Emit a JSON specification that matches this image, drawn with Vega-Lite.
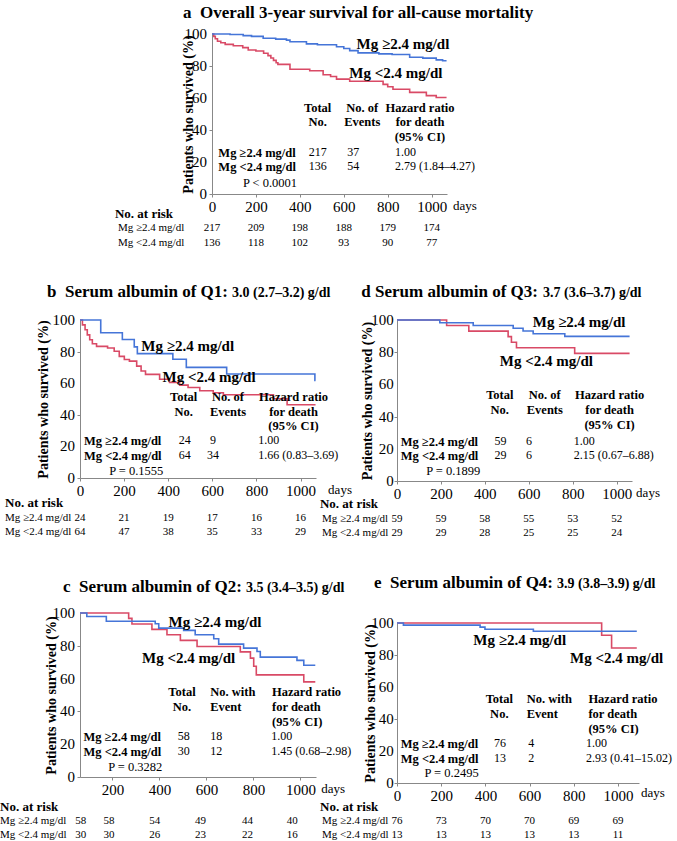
{
"$schema":"https://vega.github.io/schema/vega-lite/v6.json",
"padding":{"left":0,"top":3,"right":5,"bottom":5},
"config":{
 "font":"Liberation Serif",
 "view":{"stroke":null},
 "axis":{"grid":false,"labelFont":"Liberation Serif","labelFontSize":15,"labelColor":"#000","labelPadding":2,"labelFlush":false,"labelOverlap":false,"tickSize":3,"tickColor":"#888","domainColor":"#888","titleFont":"Liberation Serif","titleFontSize":14,"titleFontWeight":"bold","titleColor":"#000"},
 "text":{"font":"Liberation Serif","color":"#000"}
},
"datasets":{
"yticks":[{"value":0},{"value":20},{"value":40},{"value":60},{"value":80},{"value":100}],
"km":[
{"panel":"a","group":"hi","day":0,"survival":100},{"panel":"a","group":"hi","day":82,"survival":99.7},{"panel":"a","group":"hi","day":142,"survival":99.0},{"panel":"a","group":"hi","day":180,"survival":98.5},{"panel":"a","group":"hi","day":233,"survival":97.3},{"panel":"a","group":"hi","day":290,"survival":96.8},{"panel":"a","group":"hi","day":339,"survival":96.2},{"panel":"a","group":"hi","day":355,"survival":95.2},{"panel":"a","group":"hi","day":430,"survival":93.8},{"panel":"a","group":"hi","day":480,"survival":93.3},{"panel":"a","group":"hi","day":567,"survival":92.0},{"panel":"a","group":"hi","day":600,"survival":90.9},{"panel":"a","group":"hi","day":627,"survival":89.6},{"panel":"a","group":"hi","day":665,"survival":88.2},{"panel":"a","group":"hi","day":760,"survival":87.6},{"panel":"a","group":"hi","day":820,"survival":87.2},{"panel":"a","group":"hi","day":900,"survival":85.5},{"panel":"a","group":"hi","day":960,"survival":84.9},{"panel":"a","group":"hi","day":1021,"survival":83.8},{"panel":"a","group":"hi","day":1050,"survival":83.3},{"panel":"a","group":"hi","day":1068,"survival":83.3},
{"panel":"a","group":"lo","day":0,"survival":100},{"panel":"a","group":"lo","day":8,"survival":98.5},{"panel":"a","group":"lo","day":15,"survival":97},{"panel":"a","group":"lo","day":25,"survival":95.5},{"panel":"a","group":"lo","day":40,"survival":94.5},{"panel":"a","group":"lo","day":60,"survival":93.5},{"panel":"a","group":"lo","day":97,"survival":92.7},{"panel":"a","group":"lo","day":140,"survival":91.5},{"panel":"a","group":"lo","day":165,"survival":90},{"panel":"a","group":"lo","day":200,"survival":89.4},{"panel":"a","group":"lo","day":235,"survival":88},{"panel":"a","group":"lo","day":255,"survival":86.5},{"panel":"a","group":"lo","day":268,"survival":85},{"panel":"a","group":"lo","day":280,"survival":83.5},{"panel":"a","group":"lo","day":292,"survival":82},{"panel":"a","group":"lo","day":300,"survival":81},{"panel":"a","group":"lo","day":355,"survival":78},{"panel":"a","group":"lo","day":445,"survival":77},{"panel":"a","group":"lo","day":506,"survival":74.5},{"panel":"a","group":"lo","day":540,"survival":73.4},{"panel":"a","group":"lo","day":567,"survival":71.8},{"panel":"a","group":"lo","day":627,"survival":70.5},{"panel":"a","group":"lo","day":779,"survival":68.5},{"panel":"a","group":"lo","day":800,"survival":67},{"panel":"a","group":"lo","day":824,"survival":65.5},{"panel":"a","group":"lo","day":900,"survival":63.5},{"panel":"a","group":"lo","day":976,"survival":61.5},{"panel":"a","group":"lo","day":1021,"survival":60.3},{"panel":"a","group":"lo","day":1068,"survival":60.3},
{"panel":"b","group":"hi","day":0,"survival":100},{"panel":"b","group":"hi","day":94,"survival":91.9},{"panel":"b","group":"hi","day":192,"survival":87.7},{"panel":"b","group":"hi","day":246,"survival":83},{"panel":"b","group":"hi","day":260,"survival":78.7},{"panel":"b","group":"hi","day":421,"survival":75.2},{"panel":"b","group":"hi","day":482,"survival":70},{"panel":"b","group":"hi","day":665,"survival":65.8},{"panel":"b","group":"hi","day":1065,"survival":61.7},{"panel":"b","group":"hi","day":1068,"survival":61.7},
{"panel":"b","group":"lo","day":0,"survival":100},{"panel":"b","group":"lo","day":11,"survival":96.9},{"panel":"b","group":"lo","day":23,"survival":93.8},{"panel":"b","group":"lo","day":33,"survival":90.6},{"panel":"b","group":"lo","day":44,"survival":87.5},{"panel":"b","group":"lo","day":56,"survival":85},{"panel":"b","group":"lo","day":75,"survival":83.3},{"panel":"b","group":"lo","day":125,"survival":82.3},{"panel":"b","group":"lo","day":155,"survival":80.2},{"panel":"b","group":"lo","day":178,"survival":77},{"panel":"b","group":"lo","day":201,"survival":75},{"panel":"b","group":"lo","day":224,"survival":74},{"panel":"b","group":"lo","day":257,"survival":70.8},{"panel":"b","group":"lo","day":277,"survival":67.7},{"panel":"b","group":"lo","day":297,"survival":65.6},{"panel":"b","group":"lo","day":361,"survival":62.5},{"panel":"b","group":"lo","day":406,"survival":60.4},{"panel":"b","group":"lo","day":452,"survival":58.8},{"panel":"b","group":"lo","day":490,"survival":57.3},{"panel":"b","group":"lo","day":543,"survival":55.2},{"panel":"b","group":"lo","day":604,"survival":54},{"panel":"b","group":"lo","day":650,"survival":52.7},{"panel":"b","group":"lo","day":877,"survival":50.2},{"panel":"b","group":"lo","day":939,"survival":46.4},{"panel":"b","group":"lo","day":1068,"survival":46.4},
{"panel":"c","group":"hi","day":62,"survival":100},{"panel":"c","group":"hi","day":91,"survival":97.9},{"panel":"c","group":"hi","day":174,"survival":95},{"panel":"c","group":"hi","day":382,"survival":93.4},{"panel":"c","group":"hi","day":397,"survival":90.8},{"panel":"c","group":"hi","day":503,"survival":89.4},{"panel":"c","group":"hi","day":552,"survival":86.7},{"panel":"c","group":"hi","day":631,"survival":84.3},{"panel":"c","group":"hi","day":652,"survival":81.0},{"panel":"c","group":"hi","day":758,"survival":78.6},{"panel":"c","group":"hi","day":815,"survival":76.5},{"panel":"c","group":"hi","day":829,"survival":73.1},{"panel":"c","group":"hi","day":985,"survival":71.1},{"panel":"c","group":"hi","day":1014,"survival":68.1},{"panel":"c","group":"hi","day":1063,"survival":68.1},
{"panel":"c","group":"lo","day":62,"survival":100},{"panel":"c","group":"lo","day":269,"survival":96.7},{"panel":"c","group":"lo","day":283,"survival":93.3},{"panel":"c","group":"lo","day":368,"survival":90},{"panel":"c","group":"lo","day":432,"survival":86.7},{"panel":"c","group":"lo","day":489,"survival":83.3},{"panel":"c","group":"lo","day":560,"survival":79.6},{"panel":"c","group":"lo","day":744,"survival":76.3},{"panel":"c","group":"lo","day":787,"survival":72.5},{"panel":"c","group":"lo","day":801,"survival":67.5},{"panel":"c","group":"lo","day":812,"survival":62.3},{"panel":"c","group":"lo","day":1014,"survival":58},{"panel":"c","group":"lo","day":1063,"survival":58},
{"panel":"d","group":"hi","day":0,"survival":100},{"panel":"d","group":"hi","day":195,"survival":98.3},{"panel":"d","group":"hi","day":347,"survival":96.6},{"panel":"d","group":"hi","day":529,"survival":94.9},{"panel":"d","group":"hi","day":574,"survival":93.2},{"panel":"d","group":"hi","day":620,"survival":91.5},{"panel":"d","group":"hi","day":764,"survival":89.8},{"panel":"d","group":"hi","day":1059,"survival":89.8},
{"panel":"d","group":"lo","day":0,"survival":100},{"panel":"d","group":"lo","day":226,"survival":96.6},{"panel":"d","group":"lo","day":327,"survival":93.1},{"panel":"d","group":"lo","day":506,"survival":89.7},{"panel":"d","group":"lo","day":521,"survival":86.2},{"panel":"d","group":"lo","day":544,"survival":82.8},{"panel":"d","group":"lo","day":809,"survival":79.3},{"panel":"d","group":"lo","day":1059,"survival":79.3},
{"panel":"e","group":"hi","day":0,"survival":100},{"panel":"e","group":"hi","day":29,"survival":98.7},{"panel":"e","group":"hi","day":376,"survival":97.4},{"panel":"e","group":"hi","day":398,"survival":96.1},{"panel":"e","group":"hi","day":617,"survival":94.8},{"panel":"e","group":"hi","day":1085,"survival":94.8},
{"panel":"e","group":"lo","day":0,"survival":100},{"panel":"e","group":"lo","day":926,"survival":92.3},{"panel":"e","group":"lo","day":971,"survival":84.4},{"panel":"e","group":"lo","day":1085,"survival":84.4}
],
"risk":[
{"panel":"a","group":"hi","day":0,"n":217},{"panel":"a","group":"hi","day":200,"n":209},{"panel":"a","group":"hi","day":400,"n":198},{"panel":"a","group":"hi","day":600,"n":188},{"panel":"a","group":"hi","day":800,"n":179},{"panel":"a","group":"hi","day":1000,"n":174},
{"panel":"a","group":"lo","day":0,"n":136},{"panel":"a","group":"lo","day":200,"n":118},{"panel":"a","group":"lo","day":400,"n":102},{"panel":"a","group":"lo","day":600,"n":93},{"panel":"a","group":"lo","day":800,"n":90},{"panel":"a","group":"lo","day":1000,"n":77},
{"panel":"b","group":"hi","day":0,"n":24},{"panel":"b","group":"hi","day":200,"n":21},{"panel":"b","group":"hi","day":400,"n":19},{"panel":"b","group":"hi","day":600,"n":17},{"panel":"b","group":"hi","day":800,"n":16},{"panel":"b","group":"hi","day":1000,"n":16},
{"panel":"b","group":"lo","day":0,"n":64},{"panel":"b","group":"lo","day":200,"n":47},{"panel":"b","group":"lo","day":400,"n":38},{"panel":"b","group":"lo","day":600,"n":35},{"panel":"b","group":"lo","day":800,"n":33},{"panel":"b","group":"lo","day":1000,"n":29},
{"panel":"c","group":"hi","day":65,"n":58},{"panel":"c","group":"hi","day":185,"n":58},{"panel":"c","group":"hi","day":380,"n":54},{"panel":"c","group":"hi","day":575,"n":49},{"panel":"c","group":"hi","day":775,"n":44},{"panel":"c","group":"hi","day":965,"n":40},
{"panel":"c","group":"lo","day":65,"n":30},{"panel":"c","group":"lo","day":185,"n":30},{"panel":"c","group":"lo","day":380,"n":26},{"panel":"c","group":"lo","day":575,"n":23},{"panel":"c","group":"lo","day":775,"n":22},{"panel":"c","group":"lo","day":965,"n":16},
{"panel":"d","group":"hi","day":0,"n":59},{"panel":"d","group":"hi","day":200,"n":59},{"panel":"d","group":"hi","day":400,"n":58},{"panel":"d","group":"hi","day":600,"n":55},{"panel":"d","group":"hi","day":800,"n":53},{"panel":"d","group":"hi","day":1000,"n":52},
{"panel":"d","group":"lo","day":0,"n":29},{"panel":"d","group":"lo","day":200,"n":29},{"panel":"d","group":"lo","day":400,"n":28},{"panel":"d","group":"lo","day":600,"n":25},{"panel":"d","group":"lo","day":800,"n":25},{"panel":"d","group":"lo","day":1000,"n":24},
{"panel":"e","group":"hi","day":0,"n":76},{"panel":"e","group":"hi","day":200,"n":73},{"panel":"e","group":"hi","day":400,"n":70},{"panel":"e","group":"hi","day":600,"n":70},{"panel":"e","group":"hi","day":800,"n":69},{"panel":"e","group":"hi","day":1000,"n":69},
{"panel":"e","group":"lo","day":0,"n":13},{"panel":"e","group":"lo","day":200,"n":13},{"panel":"e","group":"lo","day":400,"n":13},{"panel":"e","group":"lo","day":600,"n":13},{"panel":"e","group":"lo","day":800,"n":13},{"panel":"e","group":"lo","day":1000,"n":11}
]
},
"spacing":286,
"bounds":"flush",
"vconcat":[
{"hconcat":[
 {"width":132,"height":160,"data":{"values":[{}]},"mark":{"type":"text"},"encoding":{"text":{"value":""}}},
 {"width":235,"height":160,"layer":[
  {"data":{"name":"km"},"transform":[{"filter":"datum.panel==='a' && datum.group==='lo'"}],"mark":{"type":"line","interpolate":"step-after","color":"#d94a66","strokeWidth":1.6},
   "encoding":{"x":{"field":"day","type":"quantitative","scale":{"domain":[0,1070],"nice":false,"zero":false},"axis":{"values":[0,100,200,300,400,500,600,700,800,900,1000],"format":"d","labelExpr":"datum.value % 200 === 0 ? datum.label : ''","title":null}},
   "y":{"field":"survival","type":"quantitative","scale":{"domain":[0,100],"nice":false},"axis":{"values":[0,10,20,30,40,50,60,70,80,90,100],"labels":false,"title":"Patients who survived (%)","titlePadding":13.5}}}},
  {"data":{"name":"km"},"transform":[{"filter":"datum.panel==='a' && datum.group==='hi'"}],"mark":{"type":"line","interpolate":"step-after","color":"#4575d8","strokeWidth":1.6},"encoding":{"x":{"field":"day","type":"quantitative"},"y":{"field":"survival","type":"quantitative"}}},
  {"data":{"name":"yticks"},"mark":{"type":"text","align":"right","baseline":"middle","fontSize":15},"encoding":{"x":{"datum":-22.8},"y":{"field":"value","type":"quantitative"},"text":{"field":"value","type":"quantitative"}}},
  {"data":{"name":"risk"},"transform":[{"filter":"datum.panel==='a' && datum.group==='hi'"}],"mark":{"type":"text","fontSize":11,"baseline":"middle"},"encoding":{"x":{"field":"day","type":"quantitative"},"y":{"datum":-21.25},"text":{"field":"n","type":"quantitative"}}},
  {"data":{"name":"risk"},"transform":[{"filter":"datum.panel==='a' && datum.group==='lo'"}],"mark":{"type":"text","fontSize":11,"baseline":"middle"},"encoding":{"x":{"field":"day","type":"quantitative"},"y":{"datum":-30.6},"text":{"field":"n","type":"quantitative"}}},
  {"data":{"values":[{}]},"mark":{"type":"text","align":"left","baseline":"alphabetic","fontSize":17,"fontWeight":"bold"},"encoding":{"x":{"datum":-132},"y":{"datum":110},"text":{"value":"a\u00a0\u00a0Overall 3-year survival for all-cause mortality"}}},
  {"data":{"values":[{}]},"mark":{"type":"text","align":"left","baseline":"middle","fontSize":15,"fontWeight":"bold"},"encoding":{"x":{"datum":658},"y":{"datum":93.6},"text":{"value":"Mg ≥2.4 mg/dl"}}},
  {"data":{"values":[{}]},"mark":{"type":"text","align":"left","baseline":"middle","fontSize":15,"fontWeight":"bold"},"encoding":{"x":{"datum":625},"y":{"datum":75.8},"text":{"value":"Mg <2.4 mg/dl"}}},
  {"data":{"values":[{}]},"mark":{"type":"text","align":"center","baseline":"top","fontSize":12.5,"fontWeight":"bold","lineHeight":14.5},"encoding":{"x":{"datum":481},"y":{"datum":57.7},"text":{"value":["Total","No."]}}},
  {"data":{"values":[{}]},"mark":{"type":"text","align":"center","baseline":"top","fontSize":12.5,"fontWeight":"bold","lineHeight":14.5},"encoding":{"x":{"datum":684},"y":{"datum":57.7},"text":{"value":["No. of","Events"]}}},
  {"data":{"values":[{}]},"mark":{"type":"text","align":"center","baseline":"top","fontSize":12.5,"fontWeight":"bold","lineHeight":14.5},"encoding":{"x":{"datum":947},"y":{"datum":57.7},"text":{"value":["Hazard ratio","for death","(95% CI)"]}}},
  {"data":{"values":[{}]},"mark":{"type":"text","align":"left","baseline":"top","fontSize":12.5,"fontWeight":"bold","lineHeight":14},"encoding":{"x":{"datum":29},"y":{"datum":29.6},"text":{"value":["Mg ≥2.4 mg/dl","Mg <2.4 mg/dl"]}}},
  {"data":{"values":[{}]},"mark":{"type":"text","align":"center","baseline":"top","fontSize":12,"lineHeight":14},"encoding":{"x":{"datum":481},"y":{"datum":29.6},"text":{"value":["217","136"]}}},
  {"data":{"values":[{}]},"mark":{"type":"text","align":"center","baseline":"top","fontSize":12,"lineHeight":14},"encoding":{"x":{"datum":643},"y":{"datum":29.6},"text":{"value":["37","54"]}}},
  {"data":{"values":[{}]},"mark":{"type":"text","align":"left","baseline":"top","fontSize":12,"lineHeight":14},"encoding":{"x":{"datum":833},"y":{"datum":29.6},"text":{"value":["1.00","2.79 (1.84–4.27)"]}}},
  {"data":{"values":[{}]},"mark":{"type":"text","align":"center","baseline":"middle","fontSize":12.5},"encoding":{"x":{"datum":264},"y":{"datum":7.1},"text":{"value":"P < 0.0001"}}},
  {"data":{"values":[{}]},"mark":{"type":"text","align":"center","baseline":"middle","fontSize":13},"encoding":{"x":{"datum":1152},"y":{"datum":-7.5},"text":{"value":"days"}}},
  {"data":{"values":[{}]},"mark":{"type":"text","align":"left","baseline":"middle","fontSize":13,"fontWeight":"bold"},"encoding":{"x":{"datum":-442},"y":{"datum":-12.5},"text":{"value":"No. at risk"}}},
  {"data":{"values":[{}]},"mark":{"type":"text","align":"left","baseline":"middle","fontSize":11},"encoding":{"x":{"datum":-428},"y":{"datum":-21.25},"text":{"value":"Mg ≥2.4 mg/dl"}}},
  {"data":{"values":[{}]},"mark":{"type":"text","align":"left","baseline":"middle","fontSize":11},"encoding":{"x":{"datum":-428},"y":{"datum":-30.6},"text":{"value":"Mg <2.4 mg/dl"}}}
 ]}
],"spacing":0,"bounds":"flush"},
{"hconcat":[
 {"vconcat":[
  {"width":236,"height":158,"layer":[
   {"data":{"name":"km"},"transform":[{"filter":"datum.panel==='b' && datum.group==='lo'"}],"mark":{"type":"line","interpolate":"step-after","color":"#d94a66","strokeWidth":1.6},
    "encoding":{"x":{"field":"day","type":"quantitative","scale":{"domain":[0,1070],"nice":false,"zero":false},"axis":{"values":[0,100,200,300,400,500,600,700,800,900,1000],"format":"d","labelExpr":"datum.value % 200 === 0 ? datum.label : ''","title":null}},
    "y":{"field":"survival","type":"quantitative","scale":{"domain":[0,100],"nice":false},"axis":{"values":[0,10,20,30,40,50,60,70,80,90,100],"labels":false,"title":"Patients who survived (%)","titlePadding":26.5}}}},
   {"data":{"name":"km"},"transform":[{"filter":"datum.panel==='b' && datum.group==='hi'"}],"mark":{"type":"line","interpolate":"step-after","color":"#4575d8","strokeWidth":1.6},"encoding":{"x":{"field":"day","type":"quantitative"},"y":{"field":"survival","type":"quantitative"}}},
   {"data":{"name":"yticks"},"mark":{"type":"text","align":"right","baseline":"middle","fontSize":15},"encoding":{"x":{"datum":-22.7},"y":{"field":"value","type":"quantitative"},"text":{"field":"value","type":"quantitative"}}},
   {"data":{"name":"risk"},"transform":[{"filter":"datum.panel==='b' && datum.group==='hi'"}],"mark":{"type":"text","fontSize":11,"baseline":"middle"},"encoding":{"x":{"field":"day","type":"quantitative"},"y":{"datum":-25.3},"text":{"field":"n","type":"quantitative"}}},
   {"data":{"name":"risk"},"transform":[{"filter":"datum.panel==='b' && datum.group==='lo'"}],"mark":{"type":"text","fontSize":11,"baseline":"middle"},"encoding":{"x":{"field":"day","type":"quantitative"},"y":{"datum":-34.2},"text":{"field":"n","type":"quantitative"}}},
   {"data":{"values":[{}]},"mark":{"type":"text","align":"right","baseline":"alphabetic","fontSize":17,"fontWeight":"bold"},"encoding":{"x":{"datum":671},"y":{"datum":114.6},"text":{"value":"b\u00a0\u00a0Serum albumin of Q1:"}}},
   {"data":{"values":[{}]},"mark":{"type":"text","align":"left","baseline":"alphabetic","fontSize":14,"fontWeight":"bold"},"encoding":{"x":{"datum":689},"y":{"datum":114.6},"text":{"value":"3.0 (2.7–3.2) g/dl"}}},
   {"data":{"values":[{}]},"mark":{"type":"text","align":"left","baseline":"middle","fontSize":15,"fontWeight":"bold"},"encoding":{"x":{"datum":278},"y":{"datum":83.75},"text":{"value":"Mg ≥2.4 mg/dl"}}},
   {"data":{"values":[{}]},"mark":{"type":"text","align":"left","baseline":"middle","fontSize":15,"fontWeight":"bold"},"encoding":{"x":{"datum":374},"y":{"datum":63.75},"text":{"value":"Mg <2.4 mg/dl"}}},
   {"data":{"values":[{}]},"mark":{"type":"text","align":"center","baseline":"top","fontSize":12.5,"fontWeight":"bold","lineHeight":14.5},"encoding":{"x":{"datum":470},"y":{"datum":55},"text":{"value":["Total","No."]}}},
   {"data":{"values":[{}]},"mark":{"type":"text","align":"center","baseline":"top","fontSize":12.5,"fontWeight":"bold","lineHeight":14.5},"encoding":{"x":{"datum":671},"y":{"datum":55},"text":{"value":["No. of","Events"]}}},
   {"data":{"values":[{}]},"mark":{"type":"text","align":"center","baseline":"top","fontSize":12.5,"fontWeight":"bold","lineHeight":14.5},"encoding":{"x":{"datum":968},"y":{"datum":55},"text":{"value":["Hazard ratio","for death","(95% CI)"]}}},
   {"data":{"values":[{}]},"mark":{"type":"text","align":"left","baseline":"top","fontSize":12.5,"fontWeight":"bold","lineHeight":15},"encoding":{"x":{"datum":18},"y":{"datum":26.9},"text":{"value":["Mg ≥2.4 mg/dl","Mg <2.4 mg/dl"]}}},
   {"data":{"values":[{}]},"mark":{"type":"text","align":"center","baseline":"top","fontSize":12,"lineHeight":15},"encoding":{"x":{"datum":475},"y":{"datum":26.9},"text":{"value":["24","64"]}}},
   {"data":{"values":[{}]},"mark":{"type":"text","align":"center","baseline":"top","fontSize":12,"lineHeight":15},"encoding":{"x":{"datum":603},"y":{"datum":26.9},"text":{"value":["9","34"]}}},
   {"data":{"values":[{}]},"mark":{"type":"text","align":"left","baseline":"top","fontSize":12,"lineHeight":15},"encoding":{"x":{"datum":808},"y":{"datum":26.9},"text":{"value":["1.00","1.66 (0.83–3.69)"]}}},
   {"data":{"values":[{}]},"mark":{"type":"text","align":"center","baseline":"middle","fontSize":12.5},"encoding":{"x":{"datum":255},"y":{"datum":4.4},"text":{"value":"P = 0.1555"}}},
   {"data":{"values":[{}]},"mark":{"type":"text","align":"center","baseline":"middle","fontSize":13},"encoding":{"x":{"datum":1179},"y":{"datum":-7.6},"text":{"value":"days"}}},
   {"data":{"values":[{}]},"mark":{"type":"text","align":"left","baseline":"middle","fontSize":13,"fontWeight":"bold"},"encoding":{"x":{"datum":-340},"y":{"datum":-15.8},"text":{"value":"No. at risk"}}},
   {"data":{"values":[{}]},"mark":{"type":"text","align":"left","baseline":"middle","fontSize":11},"encoding":{"x":{"datum":-340},"y":{"datum":-25.3},"text":{"value":"Mg ≥2.4 mg/dl"}}},
   {"data":{"values":[{}]},"mark":{"type":"text","align":"left","baseline":"middle","fontSize":11},"encoding":{"x":{"datum":-340},"y":{"datum":-34.2},"text":{"value":"Mg <2.4 mg/dl"}}}
  ]},
  {"width":236,"height":164,"layer":[
   {"data":{"name":"km"},"transform":[{"filter":"datum.panel==='c' && datum.group==='lo'"}],"mark":{"type":"line","interpolate":"step-after","color":"#d94a66","strokeWidth":1.6},
    "encoding":{"x":{"field":"day","type":"quantitative","scale":{"domain":[62,1066],"nice":false,"zero":false},"axis":{"values":[200,300,400,500,600,700,800,900,1000],"format":"d","labelExpr":"datum.value % 200 === 0 ? datum.label : ''","title":null}},
    "y":{"field":"survival","type":"quantitative","scale":{"domain":[0,100],"nice":false},"axis":{"values":[0,10,20,30,40,50,60,70,80,90,100],"labels":false,"title":"Patients who survived (%)","titlePadding":18.5}}}},
   {"data":{"name":"km"},"transform":[{"filter":"datum.panel==='c' && datum.group==='hi'"}],"mark":{"type":"line","interpolate":"step-after","color":"#4575d8","strokeWidth":1.6},"encoding":{"x":{"field":"day","type":"quantitative"},"y":{"field":"survival","type":"quantitative"}}},
   {"data":{"name":"yticks"},"mark":{"type":"text","align":"right","baseline":"middle","fontSize":15},"encoding":{"x":{"datum":40.7},"y":{"field":"value","type":"quantitative"},"text":{"field":"value","type":"quantitative"}}},
   {"data":{"name":"risk"},"transform":[{"filter":"datum.panel==='c' && datum.group==='hi'"}],"mark":{"type":"text","fontSize":11,"baseline":"middle"},"encoding":{"x":{"field":"day","type":"quantitative"},"y":{"datum":-26.8},"text":{"field":"n","type":"quantitative"}}},
   {"data":{"name":"risk"},"transform":[{"filter":"datum.panel==='c' && datum.group==='lo'"}],"mark":{"type":"text","fontSize":11,"baseline":"middle"},"encoding":{"x":{"field":"day","type":"quantitative"},"y":{"datum":-35.4},"text":{"field":"n","type":"quantitative"}}},
   {"data":{"values":[{}]},"mark":{"type":"text","align":"right","baseline":"alphabetic","fontSize":17,"fontWeight":"bold"},"encoding":{"x":{"datum":751},"y":{"datum":112.8},"text":{"value":"c\u00a0\u00a0Serum albumin of Q2:"}}},
   {"data":{"values":[{}]},"mark":{"type":"text","align":"left","baseline":"alphabetic","fontSize":14,"fontWeight":"bold"},"encoding":{"x":{"datum":768},"y":{"datum":112.8},"text":{"value":"3.5 (3.4–3.5) g/dl"}}},
   {"data":{"values":[{}]},"mark":{"type":"text","align":"left","baseline":"middle","fontSize":15,"fontWeight":"bold"},"encoding":{"x":{"datum":439},"y":{"datum":94.8},"text":{"value":"Mg ≥2.4 mg/dl"}}},
   {"data":{"values":[{}]},"mark":{"type":"text","align":"left","baseline":"middle","fontSize":15,"fontWeight":"bold"},"encoding":{"x":{"datum":326},"y":{"datum":72.6},"text":{"value":"Mg <2.4 mg/dl"}}},
   {"data":{"values":[{}]},"mark":{"type":"text","align":"center","baseline":"top","fontSize":12.5,"fontWeight":"bold","lineHeight":15},"encoding":{"x":{"datum":496},"y":{"datum":55.5},"text":{"value":["Total","No."]}}},
   {"data":{"values":[{}]},"mark":{"type":"text","align":"left","baseline":"top","fontSize":12.5,"fontWeight":"bold","lineHeight":15},"encoding":{"x":{"datum":616},"y":{"datum":55.5},"text":{"value":["No. with","Event"]}}},
   {"data":{"values":[{}]},"mark":{"type":"text","align":"left","baseline":"top","fontSize":12.5,"fontWeight":"bold","lineHeight":15},"encoding":{"x":{"datum":879},"y":{"datum":55.5},"text":{"value":["Hazard ratio","\u00a0for death","\u00a0(95% CI)"]}}},
   {"data":{"values":[{}]},"mark":{"type":"text","align":"left","baseline":"top","fontSize":12.5,"fontWeight":"bold","lineHeight":15},"encoding":{"x":{"datum":77},"y":{"datum":28.1},"text":{"value":["Mg ≥2.4 mg/dl","Mg <2.4 mg/dl"]}}},
   {"data":{"values":[{}]},"mark":{"type":"text","align":"center","baseline":"top","fontSize":12,"lineHeight":15},"encoding":{"x":{"datum":503},"y":{"datum":28.1},"text":{"value":["58","30"]}}},
   {"data":{"values":[{}]},"mark":{"type":"text","align":"left","baseline":"top","fontSize":12,"lineHeight":15},"encoding":{"x":{"datum":616},"y":{"datum":28.1},"text":{"value":["18","12"]}}},
   {"data":{"values":[{}]},"mark":{"type":"text","align":"left","baseline":"top","fontSize":12,"lineHeight":15},"encoding":{"x":{"datum":876},"y":{"datum":28.1},"text":{"value":["1.00","1.45 (0.68–2.98)"]}}},
   {"data":{"values":[{}]},"mark":{"type":"text","align":"center","baseline":"middle","fontSize":12.5},"encoding":{"x":{"datum":297},"y":{"datum":6.3},"text":{"value":"P = 0.3282"}}},
   {"data":{"values":[{}]},"mark":{"type":"text","align":"center","baseline":"middle","fontSize":13},"encoding":{"x":{"datum":1139},"y":{"datum":-7.3},"text":{"value":"days"}}},
   {"data":{"values":[{}]},"mark":{"type":"text","align":"left","baseline":"middle","fontSize":13,"fontWeight":"bold"},"encoding":{"x":{"datum":-278},"y":{"datum":-18.3},"text":{"value":"No. at risk"}}},
   {"data":{"values":[{}]},"mark":{"type":"text","align":"left","baseline":"middle","fontSize":11},"encoding":{"x":{"datum":-278},"y":{"datum":-26.8},"text":{"value":"Mg ≥2.4 mg/dl"}}},
   {"data":{"values":[{}]},"mark":{"type":"text","align":"left","baseline":"middle","fontSize":11},"encoding":{"x":{"datum":-278},"y":{"datum":-35.4},"text":{"value":"Mg <2.4 mg/dl"}}}
  ]}
 ],"spacing":135,"bounds":"flush"},
 {"vconcat":[
  {"width":235,"height":161,"layer":[
   {"data":{"name":"km"},"transform":[{"filter":"datum.panel==='d' && datum.group==='lo'"}],"mark":{"type":"line","interpolate":"step-after","color":"#d94a66","strokeWidth":1.6},
    "encoding":{"x":{"field":"day","type":"quantitative","scale":{"domain":[0,1070],"nice":false,"zero":false},"axis":{"values":[0,100,200,300,400,500,600,700,800,900,1000],"format":"d","labelExpr":"datum.value % 200 === 0 ? datum.label : ''","title":null}},
    "y":{"field":"survival","type":"quantitative","scale":{"domain":[0,100],"nice":false},"axis":{"values":[0,10,20,30,40,50,60,70,80,90,100],"labels":false,"title":"Patients who survived (%)","titlePadding":19.5}}}},
   {"data":{"name":"km"},"transform":[{"filter":"datum.panel==='d' && datum.group==='hi'"}],"mark":{"type":"line","interpolate":"step-after","color":"#4575d8","strokeWidth":1.6},"encoding":{"x":{"field":"day","type":"quantitative"},"y":{"field":"survival","type":"quantitative"}}},
   {"data":{"name":"yticks"},"mark":{"type":"text","align":"right","baseline":"middle","fontSize":15},"encoding":{"x":{"datum":-15},"y":{"field":"value","type":"quantitative"},"text":{"field":"value","type":"quantitative"}}},
   {"data":{"name":"risk"},"transform":[{"filter":"datum.panel==='d' && datum.group==='hi'"}],"mark":{"type":"text","fontSize":11,"baseline":"middle"},"encoding":{"x":{"field":"day","type":"quantitative"},"y":{"datum":-23.6},"text":{"field":"n","type":"quantitative"}}},
   {"data":{"name":"risk"},"transform":[{"filter":"datum.panel==='d' && datum.group==='lo'"}],"mark":{"type":"text","fontSize":11,"baseline":"middle"},"encoding":{"x":{"field":"day","type":"quantitative"},"y":{"datum":-32.3},"text":{"field":"n","type":"quantitative"}}},
   {"data":{"values":[{}]},"mark":{"type":"text","align":"right","baseline":"alphabetic","fontSize":17,"fontWeight":"bold"},"encoding":{"x":{"datum":642},"y":{"datum":114.3},"text":{"value":"d\u00a0Serum albumin of Q3:"}}},
   {"data":{"values":[{}]},"mark":{"type":"text","align":"left","baseline":"alphabetic","fontSize":14,"fontWeight":"bold"},"encoding":{"x":{"datum":665},"y":{"datum":114.3},"text":{"value":"3.7 (3.6–3.7) g/dl"}}},
   {"data":{"values":[{}]},"mark":{"type":"text","align":"left","baseline":"middle","fontSize":15,"fontWeight":"bold"},"encoding":{"x":{"datum":618},"y":{"datum":98.6},"text":{"value":"Mg ≥2.4 mg/dl"}}},
   {"data":{"values":[{}]},"mark":{"type":"text","align":"left","baseline":"middle","fontSize":15,"fontWeight":"bold"},"encoding":{"x":{"datum":468},"y":{"datum":74.8},"text":{"value":"Mg <2.4 mg/dl"}}},
   {"data":{"values":[{}]},"mark":{"type":"text","align":"center","baseline":"top","fontSize":12.5,"fontWeight":"bold","lineHeight":15},"encoding":{"x":{"datum":468},"y":{"datum":56.9},"text":{"value":["Total","No."]}}},
   {"data":{"values":[{}]},"mark":{"type":"text","align":"center","baseline":"top","fontSize":12.5,"fontWeight":"bold","lineHeight":15},"encoding":{"x":{"datum":673},"y":{"datum":56.9},"text":{"value":["No. of","Events"]}}},
   {"data":{"values":[{}]},"mark":{"type":"text","align":"center","baseline":"top","fontSize":12.5,"fontWeight":"bold","lineHeight":15},"encoding":{"x":{"datum":968},"y":{"datum":56.9},"text":{"value":["Hazard ratio","for death","(95% CI)"]}}},
   {"data":{"values":[{}]},"mark":{"type":"text","align":"left","baseline":"top","fontSize":12.5,"fontWeight":"bold","lineHeight":14.6},"encoding":{"x":{"datum":17},"y":{"datum":28.1},"text":{"value":["Mg ≥2.4 mg/dl","Mg <2.4 mg/dl"]}}},
   {"data":{"values":[{}]},"mark":{"type":"text","align":"center","baseline":"top","fontSize":12,"lineHeight":14.6},"encoding":{"x":{"datum":471},"y":{"datum":28.1},"text":{"value":["59","29"]}}},
   {"data":{"values":[{}]},"mark":{"type":"text","align":"center","baseline":"top","fontSize":12,"lineHeight":14.6},"encoding":{"x":{"datum":601},"y":{"datum":28.1},"text":{"value":["6","6"]}}},
   {"data":{"values":[{}]},"mark":{"type":"text","align":"left","baseline":"top","fontSize":12,"lineHeight":14.6},"encoding":{"x":{"datum":805},"y":{"datum":28.1},"text":{"value":["1.00","2.15 (0.67–6.88)"]}}},
   {"data":{"values":[{}]},"mark":{"type":"text","align":"center","baseline":"middle","fontSize":12.5},"encoding":{"x":{"datum":256},"y":{"datum":6.3},"text":{"value":"P = 0.1899"}}},
   {"data":{"values":[{}]},"mark":{"type":"text","align":"center","baseline":"middle","fontSize":13},"encoding":{"x":{"datum":1143},"y":{"datum":-7.5},"text":{"value":"days"}}},
   {"data":{"values":[{}]},"mark":{"type":"text","align":"left","baseline":"middle","fontSize":13,"fontWeight":"bold"},"encoding":{"x":{"datum":-351},"y":{"datum":-14.3},"text":{"value":"No. at risk"}}},
   {"data":{"values":[{}]},"mark":{"type":"text","align":"left","baseline":"middle","fontSize":11},"encoding":{"x":{"datum":-342},"y":{"datum":-23.6},"text":{"value":"Mg ≥2.4 mg/dl"}}},
   {"data":{"values":[{}]},"mark":{"type":"text","align":"left","baseline":"middle","fontSize":11},"encoding":{"x":{"datum":-342},"y":{"datum":-32.3},"text":{"value":"Mg <2.4 mg/dl"}}}
  ]},
  {"width":242,"height":160,"layer":[
   {"data":{"name":"km"},"transform":[{"filter":"datum.panel==='e' && datum.group==='lo'"}],"mark":{"type":"line","interpolate":"step-after","color":"#d94a66","strokeWidth":1.6},
    "encoding":{"x":{"field":"day","type":"quantitative","scale":{"domain":[0,1095],"nice":false,"zero":false},"axis":{"values":[0,100,200,300,400,500,600,700,800,900,1000],"format":"d","labelExpr":"datum.value % 200 === 0 ? datum.label : ''","title":null}},
    "y":{"field":"survival","type":"quantitative","scale":{"domain":[0,100],"nice":false},"axis":{"values":[0,10,20,30,40,50,60,70,80,90,100],"labels":false,"title":"Patients who survived (%)","titlePadding":16.5}}}},
   {"data":{"name":"km"},"transform":[{"filter":"datum.panel==='e' && datum.group==='hi'"}],"mark":{"type":"line","interpolate":"step-after","color":"#4575d8","strokeWidth":1.6},"encoding":{"x":{"field":"day","type":"quantitative"},"y":{"field":"survival","type":"quantitative"}}},
   {"data":{"name":"yticks"},"mark":{"type":"text","align":"right","baseline":"middle","fontSize":15},"encoding":{"x":{"datum":-15},"y":{"field":"value","type":"quantitative"},"text":{"field":"value","type":"quantitative"}}},
   {"data":{"name":"risk"},"transform":[{"filter":"datum.panel==='e' && datum.group==='hi'"}],"mark":{"type":"text","fontSize":11,"baseline":"middle"},"encoding":{"x":{"field":"day","type":"quantitative"},"y":{"datum":-23.75},"text":{"field":"n","type":"quantitative"}}},
   {"data":{"name":"risk"},"transform":[{"filter":"datum.panel==='e' && datum.group==='lo'"}],"mark":{"type":"text","fontSize":11,"baseline":"middle"},"encoding":{"x":{"field":"day","type":"quantitative"},"y":{"datum":-32.5},"text":{"field":"n","type":"quantitative"}}},
   {"data":{"values":[{}]},"mark":{"type":"text","align":"right","baseline":"alphabetic","fontSize":17,"fontWeight":"bold"},"encoding":{"x":{"datum":706},"y":{"datum":121.9},"text":{"value":"e\u00a0\u00a0Serum albumin of Q4:"}}},
   {"data":{"values":[{}]},"mark":{"type":"text","align":"left","baseline":"alphabetic","fontSize":14,"fontWeight":"bold"},"encoding":{"x":{"datum":724},"y":{"datum":121.9},"text":{"value":"3.9 (3.8–3.9) g/dl"}}},
   {"data":{"values":[{}]},"mark":{"type":"text","align":"left","baseline":"middle","fontSize":15,"fontWeight":"bold"},"encoding":{"x":{"datum":345},"y":{"datum":89.2},"text":{"value":"Mg ≥2.4 mg/dl"}}},
   {"data":{"values":[{}]},"mark":{"type":"text","align":"left","baseline":"middle","fontSize":15,"fontWeight":"bold"},"encoding":{"x":{"datum":783},"y":{"datum":78.1},"text":{"value":"Mg <2.4 mg/dl"}}},
   {"data":{"values":[{}]},"mark":{"type":"text","align":"center","baseline":"top","fontSize":12.5,"fontWeight":"bold","lineHeight":15},"encoding":{"x":{"datum":463},"y":{"datum":56.5},"text":{"value":["Total","No."]}}},
   {"data":{"values":[{}]},"mark":{"type":"text","align":"left","baseline":"top","fontSize":12.5,"fontWeight":"bold","lineHeight":15},"encoding":{"x":{"datum":587},"y":{"datum":56.5},"text":{"value":["No. with","Event"]}}},
   {"data":{"values":[{}]},"mark":{"type":"text","align":"left","baseline":"top","fontSize":12.5,"fontWeight":"bold","lineHeight":15},"encoding":{"x":{"datum":866},"y":{"datum":56.5},"text":{"value":["Hazard ratio","\u00a0for death","\u00a0(95% CI)"]}}},
   {"data":{"values":[{}]},"mark":{"type":"text","align":"left","baseline":"top","fontSize":12.5,"fontWeight":"bold","lineHeight":14.6},"encoding":{"x":{"datum":17},"y":{"datum":28.1},"text":{"value":["Mg ≥2.4 mg/dl","Mg <2.4 mg/dl"]}}},
   {"data":{"values":[{}]},"mark":{"type":"text","align":"center","baseline":"top","fontSize":12,"lineHeight":14.6},"encoding":{"x":{"datum":466},"y":{"datum":28.1},"text":{"value":["76","13"]}}},
   {"data":{"values":[{}]},"mark":{"type":"text","align":"left","baseline":"top","fontSize":12,"lineHeight":14.6},"encoding":{"x":{"datum":594},"y":{"datum":28.1},"text":{"value":["4","2"]}}},
   {"data":{"values":[{}]},"mark":{"type":"text","align":"left","baseline":"top","fontSize":12,"lineHeight":14.6},"encoding":{"x":{"datum":855},"y":{"datum":28.1},"text":{"value":["1.00","2.93 (0.41–15.02)"]}}},
   {"data":{"values":[{}]},"mark":{"type":"text","align":"center","baseline":"middle","fontSize":12.5},"encoding":{"x":{"datum":247},"y":{"datum":6.2},"text":{"value":"P = 0.2495"}}},
   {"data":{"values":[{}]},"mark":{"type":"text","align":"center","baseline":"middle","fontSize":13},"encoding":{"x":{"datum":1158},"y":{"datum":-6.25},"text":{"value":"days"}}},
   {"data":{"values":[{}]},"mark":{"type":"text","align":"left","baseline":"middle","fontSize":13,"fontWeight":"bold"},"encoding":{"x":{"datum":-348},"y":{"datum":-15},"text":{"value":"No. at risk"}}},
   {"data":{"values":[{}]},"mark":{"type":"text","align":"left","baseline":"middle","fontSize":11},"encoding":{"x":{"datum":-339},"y":{"datum":-23.75},"text":{"value":"Mg ≥2.4 mg/dl"}}},
   {"data":{"values":[{}]},"mark":{"type":"text","align":"left","baseline":"middle","fontSize":11},"encoding":{"x":{"datum":-339},"y":{"datum":-32.5},"text":{"value":"Mg <2.4 mg/dl"}}}
  ]}
 ],"spacing":142,"bounds":"flush"}
],"spacing":317,"bounds":"flush"}
]
}
